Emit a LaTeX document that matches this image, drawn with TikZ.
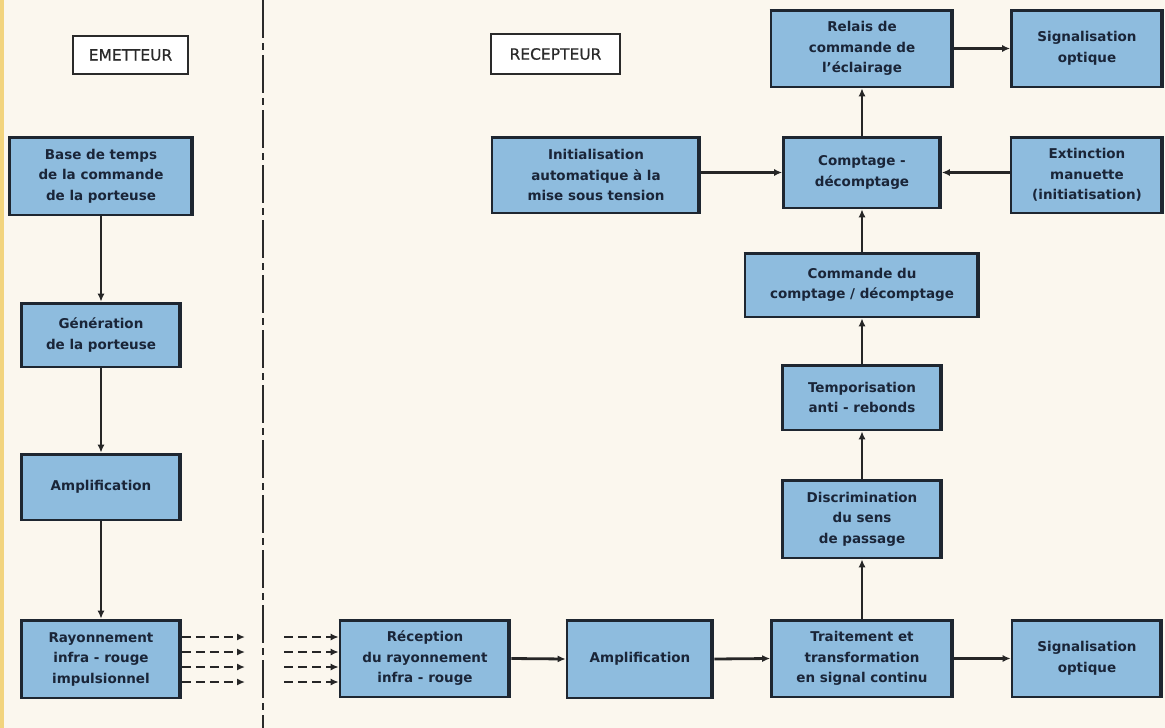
\documentclass[tikz,border=0pt]{standalone}
\usepackage{fontspec}
\setmainfont{DejaVu Sans}
\newfontfamily\lblfont{DejaVu Sans}[FakeBold=0.6]
\usetikzlibrary{arrows.meta,calc}
\definecolor{bg}{HTML}{FBF7EE}
\definecolor{boxfill}{HTML}{8EBCDE}
\definecolor{boxline}{HTML}{1E2630}
\definecolor{ink}{HTML}{1A2538}
\definecolor{ink2}{HTML}{2A2A2A}
\definecolor{wirec}{HTML}{262626}
\definecolor{strip}{HTML}{F2D47E}
\begin{document}
\begin{tikzpicture}[x=1pt,y=-1pt,
  blk/.style={draw=boxline, line width=2.6pt, fill=boxfill, text=ink,
    font=\bfseries\fontsize{13.5}{20.5}\selectfont, align=center, inner sep=0pt},
  lbl/.style={draw=ink2, line width=1.6pt, fill=white, text=ink2,
    font=\lblfont\fontsize{15.5}{17}\selectfont, inner sep=0pt},
  wire/.style={draw=wirec, line width=2.8pt, -{Latex[length=8pt,width=7pt]}},
  irw/.style={wire, line width=2.4pt, dash pattern=on 9pt off 5pt},
  divider/.style={draw=ink2, line width=1.8pt, dash pattern=on 38pt off 5pt on 7pt off 5pt}
]
\useasboundingbox (0,0) rectangle (1165,728);
\fill[bg] (0,0) rectangle (1165,728);
\fill[strip] (0,0) rectangle (4,728);

% divider
\coordinate (dtop) at (263,0);
\coordinate (dbot) at (263,728);
\draw[divider] (dtop) -- (dbot);

% labels
\node[lbl, minimum width=115, minimum height=38] (emet) at (130.5,55) {EMETTEUR};
\node[lbl, minimum width=129, minimum height=40] (recep) at (555.5,54) {RECEPTEUR};

% emitter column
\node[blk, minimum width=183, minimum height=78] (base) at (101,176) {Base de temps\\de la commande\\de la porteuse};
\node[blk, minimum width=159, minimum height=64] (gen) at (101,335) {Génération\\de la porteuse};
\node[blk, minimum width=159, minimum height=66] (amp1) at (101,487) {Amplification};
\node[blk, minimum width=159, minimum height=78] (ray) at (101,659) {Rayonnement\\infra - rouge\\impulsionnel};

% receiver
\node[blk, minimum width=170, minimum height=77] (recv) at (425,658.5) {Réception\\du rayonnement\\infra - rouge};
\node[blk, minimum width=146, minimum height=78] (amp2) at (640,659) {Amplification};
\node[blk, minimum width=181, minimum height=77] (trait) at (862,658.5) {Traitement et\\transformation\\en signal continu};
\node[blk, minimum width=150, minimum height=77] (sig2) at (1087,658.5) {Signalisation\\optique};
\node[blk, minimum width=159, minimum height=78] (disc) at (862,519) {Discrimination\\du sens\\de passage};
\node[blk, minimum width=159, minimum height=65] (temp) at (862,397.5) {Temporisation\\anti - rebonds};
\node[blk, minimum width=234, minimum height=64] (cmd) at (862,285) {Commande du\\comptage / décomptage};
\node[blk, minimum width=157, minimum height=71] (compt) at (862,172.5) {Comptage -\\décomptage};
\node[blk, minimum width=208, minimum height=76] (init) at (596,175) {Initialisation\\automatique à la\\mise sous tension};
\node[blk, minimum width=152, minimum height=76] (ext) at (1087,175) {Extinction\\manuette\\(initiatisation)};
\node[blk, minimum width=182, minimum height=77] (relais) at (862,48.5) {Relais de\\commande de\\l'éclairage};
\node[blk, minimum width=151, minimum height=77] (sig1) at (1087,48.5) {Signalisation\\optique};

% heavy top and right edges
\foreach \n in {base,gen,amp1,ray,recv,amp2,trait,sig2,disc,temp,cmd,compt,init,ext,relais,sig1}{
  \draw[boxline, line width=3.4pt, line join=miter]
    ($(\n.north west)+(0pt,-1.6pt)$) -- ($(\n.north east)+(-2.2pt,-1.6pt)$) -- ($(\n.south east)+(-2.2pt,0pt)$);
}

% connectors
\draw[wire] (base.south) -- (gen.north);
\draw[wire] (gen.south) -- (amp1.north);
\draw[wire] (amp1.south) -- (ray.north);
\draw[wire] (recv.east) -- (amp2.west);
\draw[wire] (amp2.east) -- (trait.west);
\draw[wire] (trait.east) -- (sig2.west);
\draw[wire] (trait.north) -- (disc.south);
\draw[wire] (disc.north) -- (temp.south);
\draw[wire] (temp.north) -- (cmd.south);
\draw[wire] (cmd.north) -- (compt.south);
\draw[wire] (compt.north) -- (relais.south);
\draw[wire] (relais.east) -- (sig1.west);
\draw[wire] (init.east |- compt.west) -- (compt.west);
\draw[wire] (ext.west |- compt.east) -- (compt.east);

% infrared dashed arrows
\foreach \i/\yy in {1/637,2/652,3/667,4/682}{
  \coordinate (e\i) at (245,\yy);
  \coordinate (s\i) at (284,\yy);
  \draw[irw] (ray.east |- e\i) -- (e\i);
  \draw[irw] (s\i) -- (s\i -| recv.west);
}
\end{tikzpicture}
\end{document}
